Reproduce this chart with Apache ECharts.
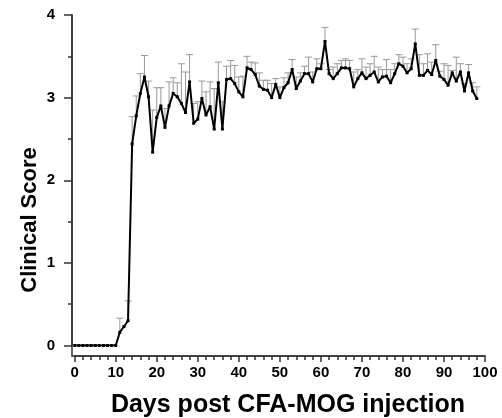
<!DOCTYPE html>
<html>
<head>
<meta charset="utf-8">
<script src="https://cdn.jsdelivr.net/npm/echarts@6/dist/echarts.min.js"></script>
<style>
  html, body { margin: 0; padding: 0; background: #fff; }
  #chart { width: 502px; height: 418px; }
</style>
</head>
<body>
<div id="chart"></div>
<script>
// mean clinical score per day (day 0..98)
var days = [];
for (var d = 0; d <= 98; d++) days.push(d);

var meanScore = [
  0, 0, 0, 0, 0, 0, 0, 0, 0, 0,
  0, 0.16, 0.23, 0.30, 2.44, 2.78, 3.05, 3.25, 3.01, 2.34,
  2.76, 2.90, 2.64, 2.90, 3.05, 3.01, 2.93, 2.82, 3.19, 2.69,
  2.74, 2.99, 2.79, 2.89, 2.62, 3.18, 2.62, 3.22, 3.23, 3.17,
  3.07, 3.01, 3.36, 3.34, 3.28, 3.14, 3.10, 3.09, 3.00, 3.16,
  3.00, 3.12, 3.18, 3.34, 3.11, 3.20, 3.29, 3.29, 3.19, 3.35,
  3.35, 3.68, 3.29, 3.23, 3.29, 3.36, 3.36, 3.35, 3.13, 3.23,
  3.30, 3.23, 3.27, 3.31, 3.19, 3.25, 3.26, 3.18, 3.29, 3.41,
  3.38, 3.30, 3.35, 3.65, 3.27, 3.27, 3.33, 3.28, 3.45, 3.26,
  3.22, 3.15, 3.30, 3.20, 3.31, 3.08, 3.30, 3.08, 2.99
];

// top of the error bar (mean + SEM), null where no bar is drawn
var upperScore = [
  null, null, null, null, null, null, null, null, null, null,
  null, 0.33, null, 0.54, 2.77, 3.02, 3.29, 3.51, 3.20, 2.85,
  3.12, 3.12, 2.87, 3.19, 3.24, 3.18, 3.41, 3.31, 3.52, 2.93,
  2.95, 3.20, 3.07, 3.19, 3.11, 3.43, 2.95, 3.38, 3.45, 3.39,
  3.25, 3.26, 3.50, 3.43, 3.42, 3.30, 3.21, 3.21, 3.17, 3.23,
  3.13, 3.24, 3.30, 3.46, 3.25, 3.30, 3.38, 3.49, 3.31, 3.47,
  3.41, 3.85, 3.34, 3.37, 3.41, 3.45, 3.47, 3.45, 3.31, 3.34,
  3.47, 3.37, 3.41, 3.50, 3.37, 3.34, 3.46, 3.34, 3.41, 3.52,
  3.49, 3.41, 3.47, 3.83, 3.52, 3.41, 3.53, 3.43, 3.64, 3.32,
  3.41, 3.39, 3.33, 3.49, 3.41, 3.17, 3.40, 3.18, 3.13
];

var xRange = [0, 100];   // ticks every 10, minor every 2
var yRange = [0, 4];     // ticks every 1, minor every 0.5

var lineData = days.map(function (d, i) { return [d, meanScore[i]]; });
var errData = [];
days.forEach(function (d, i) {
  if (upperScore[i] != null) errData.push([d, meanScore[i], upperScore[i]]);
});

var axisColor = '#333';
var labelFont = { color: '#000', fontFamily: 'Liberation Sans', fontWeight: 'bold', fontSize: 15 };
var tickStyle = { color: axisColor, width: 1.5 };
var lineStyleAxis = { color: axisColor, width: 1.5 };

var chart = echarts.init(document.getElementById('chart'), null, { renderer: 'canvas' });

var options = {
  backgroundColor: '#fff',
  animation: false,
  grid: [
    // data grid: 0..100 x 0..4
    { left: 74.7, right: 17, top: 15, bottom: 72.5, containLabel: false, outerBoundsMode: 'none' },
    // frame grid: only carries the longer, detached axis lines
    { left: 72, right: 17, top: 15, bottom: 62, containLabel: false, outerBoundsMode: 'none' }
  ],
  xAxis: [
    {
      type: 'value', gridIndex: 0, position: 'bottom', offset: 10.5,
      min: xRange[0], max: xRange[1], interval: 10,
      axisLine: { show: true, onZero: false, lineStyle: lineStyleAxis },
      axisTick: { show: true, inside: false, length: 6, lineStyle: tickStyle },
      minorTick: { show: true, splitNumber: 5, length: 4, lineStyle: tickStyle },
      axisLabel: Object.assign({ margin: 9 }, labelFont),
      splitLine: { show: false }, minorSplitLine: { show: false }
    },
    {
      type: 'value', gridIndex: 1, position: 'bottom', min: 0, max: 1,
      axisLine: { show: true, onZero: false, lineStyle: lineStyleAxis },
      axisTick: { show: false }, axisLabel: { show: false }, splitLine: { show: false }
    }
  ],
  yAxis: [
    {
      type: 'value', gridIndex: 0, position: 'left', offset: 2.7,
      min: yRange[0], max: yRange[1], interval: 1,
      axisLine: { show: true, onZero: false, lineStyle: lineStyleAxis },
      axisTick: { show: true, inside: false, length: 8, lineStyle: tickStyle },
      minorTick: { show: true, splitNumber: 2, length: 4, lineStyle: tickStyle },
      axisLabel: Object.assign({ margin: 17 }, labelFont),
      splitLine: { show: false }, minorSplitLine: { show: false }
    },
    {
      type: 'value', gridIndex: 1, position: 'left', min: 0, max: 1,
      axisLine: { show: true, onZero: false, lineStyle: lineStyleAxis },
      axisTick: { show: false }, axisLabel: { show: false }, splitLine: { show: false }
    }
  ],
  graphic: [
    {
      type: 'text', x: 30, y: 220, rotation: Math.PI / 2,
      style: { text: 'Clinical Score', fill: '#000', font: 'bold 22px "Liberation Sans"', align: 'center', verticalAlign: 'middle' }
    },
    {
      type: 'text', x: 288, y: 405,
      style: { text: 'Days post CFA-MOG injection', fill: '#000', font: 'bold 25px "Liberation Sans"', align: 'center', verticalAlign: 'middle' }
    }
  ],
  series: [
    {
      type: 'custom', xAxisIndex: 0, yAxisIndex: 0, z: 1,
      data: errData,
      renderItem: function (params, api) {
        var p0 = api.coord([api.value(0), api.value(1)]);
        var p1 = api.coord([api.value(0), api.value(2)]);
        var hw = 3.5;
        var st = { stroke: '#999', lineWidth: 1 };
        return {
          type: 'group',
          children: [
            { type: 'line', shape: { x1: p0[0], y1: p0[1], x2: p1[0], y2: p1[1] }, style: st },
            { type: 'line', shape: { x1: p1[0] - hw, y1: p1[1], x2: p1[0] + hw, y2: p1[1] }, style: st }
          ]
        };
      }
    },
    {
      type: 'line', xAxisIndex: 0, yAxisIndex: 0, z: 2,
      data: lineData,
      symbol: 'rect', symbolSize: 3,
      itemStyle: { color: '#000' },
      lineStyle: { color: '#000', width: 2 }
    }
  ]
};

chart.setOption(options, true);
</script>
</body>
</html>
